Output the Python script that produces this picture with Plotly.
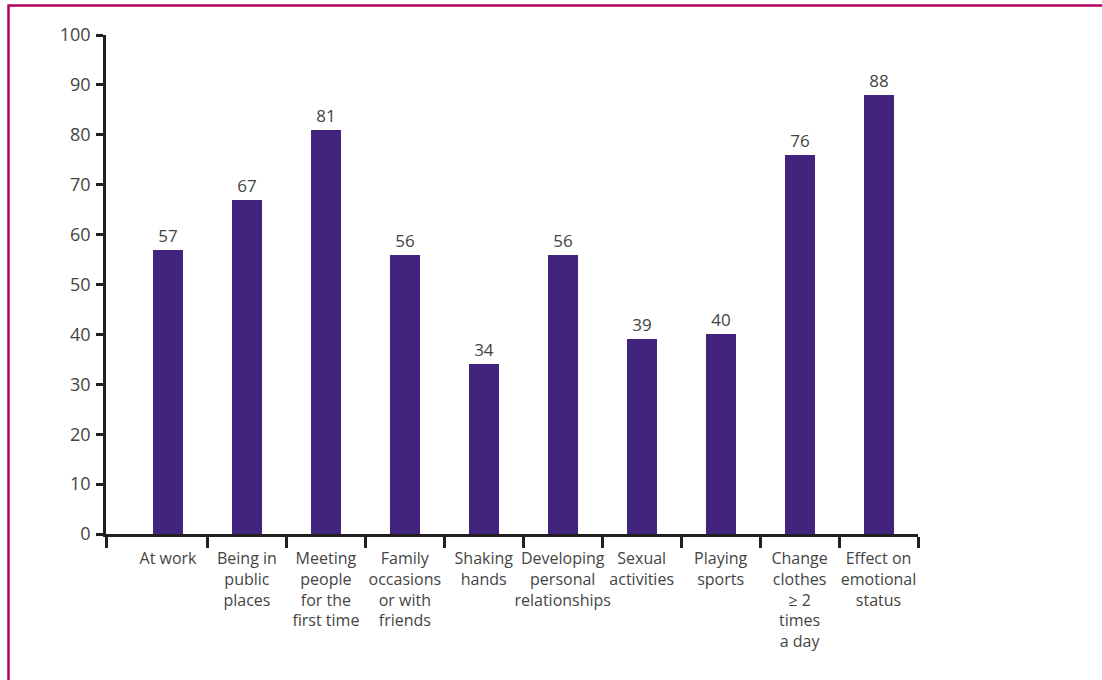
import plotly.graph_objects as go

categories = [
    "At work",
    "Being in<br>public<br>places",
    "Meeting<br>people<br>for the<br>first time",
    "Family<br>occasions<br>or with<br>friends",
    "Shaking<br>hands",
    "Developing<br>personal<br>relationships",
    "Sexual<br>activities",
    "Playing<br>sports",
    "Change<br>clothes<br>\u2265 2<br>times<br>a day",
    "Effect on<br>emotional<br>status",
]
values = [57, 67, 81, 56, 34, 56, 39, 40, 76, 88]
y_ticks = list(range(0, 101, 10))

BAR = "#42237E"
AXIS = "#231f20"
TEXT = "#444444"
FONT = "Open Sans"

xpos = list(range(len(categories)))
x_lo, x_hi = -0.785, len(categories) - 0.5

fig = go.Figure()
fig.add_trace(go.Bar(
    x=xpos, y=values, width=0.38,
    marker=dict(color=BAR, line=dict(width=0)),
    text=[str(v) for v in values], textposition="outside",
    textfont=dict(family=FONT, size=17, color=TEXT),
    cliponaxis=False,
))

fig.update_layout(
    width=1102, height=680,
    margin=dict(l=106, r=184, t=35, b=146),
    paper_bgcolor="white", plot_bgcolor="white",
    showlegend=False, bargap=0,
    font=dict(family=FONT, size=17, color=TEXT),
)
fig.update_xaxes(
    range=[x_lo, x_hi],
    tickmode="array", tickvals=xpos, ticktext=categories,
    ticks="outside", ticklen=8, tickcolor="rgba(0,0,0,0)",
    showline=True, linecolor=AXIS, linewidth=2.5,
    showgrid=False, zeroline=False,
    tickfont=dict(family=FONT, size=16, color=TEXT),
    tickangle=0,
    minor=dict(
        tickmode="array",
        tickvals=[x_lo] + [i + 0.5 for i in range(len(categories))],
        ticks="outside", ticklen=11, tickwidth=2.5, tickcolor=AXIS,
        showgrid=False,
    ),
)
fig.update_yaxes(
    range=[0, 100], tickmode="array", tickvals=y_ticks,
    ticks="outside", ticklen=7, tickwidth=2.5, tickcolor=AXIS,
    showline=True, linecolor=AXIS, linewidth=2.5,
    showgrid=False, zeroline=False,
    tickfont=dict(family=FONT, size=18, color=TEXT),
    ticklabelstandoff=2,
)

# page frame (top and left rules)
FRAME = "#B3005F"
fig.add_shape(type="line", xref="paper", yref="paper",
              x0=-106/812 + 8.5/812, x1=1.3, y0=1 + 29.5/499, y1=1 + 29.5/499,
              line=dict(color=FRAME, width=2.5))
fig.add_shape(type="line", xref="paper", yref="paper",
              x0=-106/812 + 8.5/812, x1=-106/812 + 8.5/812, y0=-0.4, y1=1 + 30.5/499,
              line=dict(color=FRAME, width=2.5))

fig.write_html("out.html")
